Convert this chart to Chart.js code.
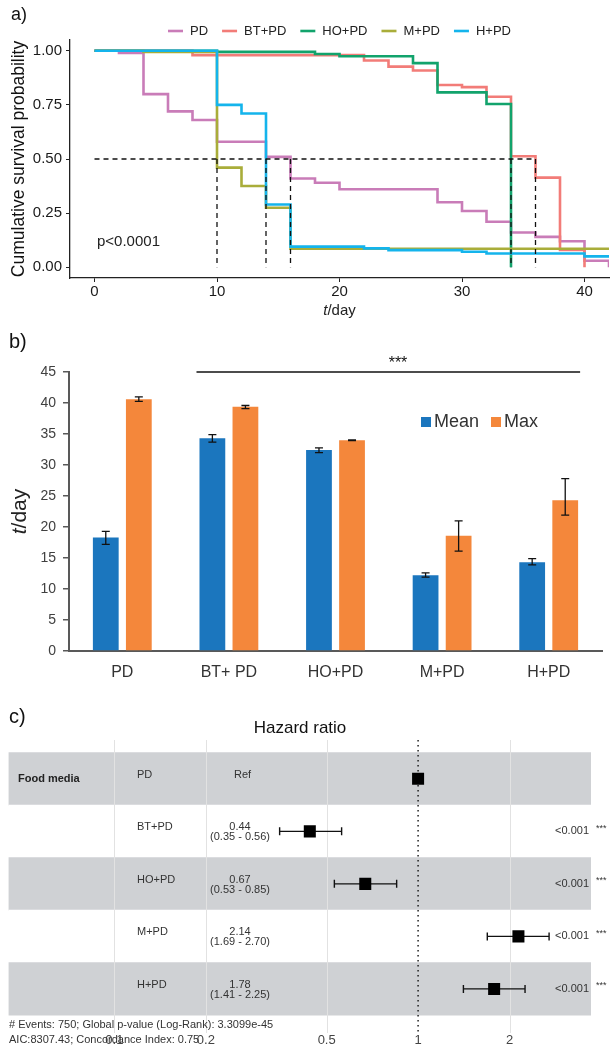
<!DOCTYPE html>
<html lang="en">
<head>
    <meta charset="utf-8" />
    <title>Survival on food media</title>
    <script src="https://cdn.jsdelivr.net/npm/chart.js@4.4.1/dist/chart.umd.min.js"></script>
    <style>
        body { margin: 0; background: #fff; }
        .panel { position: absolute; left: 0; }
    </style>
</head>

<body>
    <canvas id="survChart" class="panel" width="615" height="320" style="top:0"></canvas>
    <canvas id="barChart" class="panel" width="615" height="370" style="top:320px"></canvas>
    <canvas id="forestChart" class="panel" width="615" height="358" style="top:690px"></canvas>

    <script>
        // a) Kaplan-Meier curves: day of each step and survival from that day on
        const groups = ['PD', 'BT+PD', 'HO+PD', 'M+PD', 'H+PD'];
        const groupColors = ['#c97cb8', '#f27c78', '#12a36c', '#a9ad3a', '#14b4ec'];
        const pdDays = [0, 2, 4, 6, 8, 10, 14, 16, 18, 20, 28, 30, 32, 34, 36, 38, 40, 42];
        const pdSurv = [1, 0.99, 0.80, 0.72, 0.68, 0.58, 0.51, 0.41, 0.39, 0.36, 0.30, 0.26, 0.21, 0.16, 0.14, 0.12, 0.03, 0];
        const btDays = [0, 8, 22, 24, 26, 28, 30, 32, 34, 36, 38, 40];
        const btSurv = [1, 0.98, 0.955, 0.927, 0.909, 0.842, 0.832, 0.788, 0.513, 0.414, 0.08, 0];
        const hoDays = [0, 10, 18, 20, 26, 28, 32, 34];
        const hoSurv = [1, 0.995, 0.985, 0.975, 0.943, 0.808, 0.754, 0];
        const mDays = [0, 4, 10, 12, 14, 16, 42];
        const mSurv = [1, 0.995, 0.46, 0.375, 0.275, 0.085, 0.085];
        const hDays = [0, 10, 12, 14, 16, 22, 24, 30, 32, 40, 42];
        const hSurv = [1, 0.75, 0.71, 0.29, 0.095, 0.087, 0.079, 0.071, 0.063, 0.05, 0.05];
        const medianDays = [10, 14, 16, 34, 36];
        const survXTicks = [0, 10, 20, 30, 40];
        const survYTicks = [0, 0.25, 0.5, 0.75, 1];

        // b) mean and max survival time
        const barCats = ['PD', 'BT+ PD', 'HO+PD', 'M+PD', 'H+PD'];
        const meanDays = [18.3, 34.3, 32.4, 12.2, 14.3];
        const meanLow = [17.2, 33.7, 32.0, 11.9, 13.9];
        const meanHigh = [19.3, 34.9, 32.75, 12.6, 14.9];
        const maxDays = [40.6, 39.4, 34.0, 18.6, 24.3];
        const maxLow = [40.25, 39.1, 33.95, 16.1, 21.9];
        const maxHigh = [41.0, 39.6, 34.05, 21.0, 27.8];

        // c) Cox model hazard ratios
        const forestRows = ['PD', 'BT+PD', 'HO+PD', 'M+PD', 'H+PD'];
        const hazard = [1, 0.44, 0.67, 2.14, 1.78];
        const hazardLow = [null, 0.35, 0.53, 1.69, 1.41];
        const hazardHigh = [null, 0.56, 0.85, 2.70, 2.25];
        const pLabels = ['', '<0.001', '<0.001', '<0.001', '<0.001'];
        const forestTicks = [0.1, 0.2, 0.5, 1, 2];

        const FONT = '"Liberation Sans", Arial, sans-serif';
        Chart.defaults.font.family = FONT;
        Chart.defaults.color = '#222';
        Chart.defaults.animation = false;
        Chart.defaults.plugins.legend.display = false;
        Chart.defaults.plugins.tooltip.enabled = false;

        function drawTDay(ctx, x, y, size, rotate) {
            ctx.save();
            ctx.translate(x, y);
            if (rotate) ctx.rotate(-Math.PI / 2);
            ctx.textBaseline = 'middle';
            ctx.textAlign = 'left';
            ctx.fillStyle = '#222';
            ctx.font = 'italic ' + size + 'px ' + FONT;
            const tw = ctx.measureText('t').width;
            ctx.font = size + 'px ' + FONT;
            const rw = ctx.measureText('/day').width;
            const sx = -(tw + rw) / 2;
            ctx.font = 'italic ' + size + 'px ' + FONT;
            ctx.fillText('t', sx, 0);
            ctx.font = size + 'px ' + FONT;
            ctx.fillText('/day', sx + tw, 0);
            ctx.restore();
        }

        // ---------- a) survival curves ----------
        const kmDays = [pdDays, btDays, hoDays, mDays, hDays];
        const kmSurv = [pdSurv, btSurv, hoSurv, mSurv, hSurv];
        const kmSets = groups.map((g, i) => ({
            label: g,
            data: kmDays[i].map((d, j) => ({ x: d, y: kmSurv[i][j] })),
            borderColor: groupColors[i],
            borderWidth: 2.6,
            stepped: 'before',
            pointRadius: 0,
            order: groups.length - i
        }));
        const dashStyle = { borderColor: '#111', borderWidth: 1.3, borderDash: [5, 4], pointRadius: 0, order: -1 };
        const medianSets = [
            Object.assign({ data: [{ x: 0, y: 0.5 }, { x: Math.max(...medianDays), y: 0.5 }] }, dashStyle)
        ].concat(medianDays.map(d => Object.assign({ data: [{ x: d, y: 0.5 }, { x: d, y: 0 }] }, dashStyle)));

        const survDecor = {
            id: 'survDecor',
            afterDraw(chart) {
                const ctx = chart.ctx;
                const area = chart.chartArea;
                ctx.save();
                ctx.fillStyle = '#111';
                ctx.textBaseline = 'middle';
                ctx.font = '18px ' + FONT;
                ctx.fillText('a)', 11, 15);

                // legend
                ctx.font = '13px ' + FONT;
                const lineLen = 15, gap = 7, between = 14;
                const widths = groups.map(g => ctx.measureText(g).width);
                const total = widths.reduce((a, b) => a + b, 0) + groups.length * (lineLen + gap) + (groups.length - 1) * between;
                let x = (area.left + area.right) / 2 - total / 2;
                const ly = 31;
                groups.forEach((g, i) => {
                    ctx.strokeStyle = groupColors[i];
                    ctx.lineWidth = 2.6;
                    ctx.beginPath();
                    ctx.moveTo(x, ly);
                    ctx.lineTo(x + lineLen, ly);
                    ctx.stroke();
                    ctx.fillStyle = '#222';
                    ctx.fillText(g, x + lineLen + gap, ly);
                    x += lineLen + gap + widths[i] + between;
                });

                ctx.font = '15px ' + FONT;
                ctx.fillText('p<0.0001', 97, 242);
                ctx.restore();
                drawTDay(ctx, (area.left + area.right) / 2, 311, 15, false);
            }
        };

        new Chart(document.getElementById('survChart'), {
            type: 'line',
            data: { datasets: kmSets.concat(medianSets) },
            options: {
                responsive: false,
                layout: { padding: { top: 40, right: 6 } },
                scales: {
                    x: {
                        type: 'linear', min: -2, max: 42,
                        afterBuildTicks: s => { s.ticks = survXTicks.map(v => ({ value: v })); },
                        afterFit: s => { s.height = 42; },
                        grid: { drawOnChartArea: false, tickLength: 4, color: '#222' },
                        border: { color: '#222', width: 1.3 },
                        ticks: { font: { size: 15 }, color: '#1a1a1a', padding: 1 }
                    },
                    y: {
                        type: 'linear', min: -0.05, max: 1.05,
                        afterBuildTicks: s => { s.ticks = survYTicks.map(v => ({ value: v })); },
                        afterFit: s => { s.width = 70; },
                        grid: { drawOnChartArea: false, tickLength: 4, color: '#222' },
                        border: { color: '#222', width: 1.3 },
                        ticks: { callback: v => v.toFixed(2), font: { size: 15 }, color: '#1a1a1a', padding: 4 },
                        title: { display: true, text: 'Cumulative survival probability', font: { size: 17.5 }, color: '#111', padding: { top: 9 } }
                    }
                }
            },
            plugins: [survDecor]
        });

        // ---------- b) mean / max bars ----------
        const barDecor = {
            id: 'barDecor',
            afterDatasetsDraw(chart) {
                const ctx = chart.ctx;
                const ys = chart.scales.y;
                ctx.save();
                ctx.strokeStyle = '#111';
                ctx.lineWidth = 1.3;
                [[meanLow, meanHigh], [maxLow, maxHigh]].forEach(([lo, hi], di) => {
                    chart.getDatasetMeta(di).data.forEach((bar, i) => {
                        const y1 = ys.getPixelForValue(lo[i]);
                        const y2 = ys.getPixelForValue(hi[i]);
                        ctx.beginPath();
                        ctx.moveTo(bar.x, y1); ctx.lineTo(bar.x, y2);
                        ctx.moveTo(bar.x - 4, y1); ctx.lineTo(bar.x + 4, y1);
                        ctx.moveTo(bar.x - 4, y2); ctx.lineTo(bar.x + 4, y2);
                        ctx.stroke();
                    });
                });
                ctx.restore();
            },
            afterDraw(chart) {
                const ctx = chart.ctx;
                const ys = chart.scales.y;
                const first = chart.getDatasetMeta(0).data[1];
                const last = chart.getDatasetMeta(1).data[4];
                const sy = ys.getPixelForValue(45);
                ctx.save();
                ctx.strokeStyle = '#111';
                ctx.lineWidth = 1.5;
                ctx.beginPath();
                ctx.moveTo(first.x - first.width / 2 - 3, sy);
                ctx.lineTo(last.x + last.width / 2 + 2, sy);
                ctx.stroke();
                ctx.fillStyle = '#111';
                ctx.textAlign = 'center';
                ctx.textBaseline = 'middle';
                ctx.font = '16px ' + FONT;
                ctx.fillText('***', 398, 44);

                ctx.textAlign = 'left';
                ctx.font = '20px ' + FONT;
                ctx.fillText('b)', 9, 22);

                // legend
                ctx.font = '18px ' + FONT;
                ctx.fillStyle = chart.data.datasets[0].backgroundColor;
                ctx.fillRect(421, 97, 10, 10);
                ctx.fillStyle = '#333';
                ctx.fillText('Mean', 434, 102);
                ctx.fillStyle = chart.data.datasets[1].backgroundColor;
                ctx.fillRect(491, 97, 10, 10);
                ctx.fillStyle = '#333';
                ctx.fillText('Max', 504, 102);
                ctx.restore();
                drawTDay(ctx, 20, (chart.chartArea.top + chart.chartArea.bottom) / 2, 21, true);
            }
        };

        new Chart(document.getElementById('barChart'), {
            type: 'bar',
            data: {
                labels: barCats,
                datasets: [
                    { label: 'Mean', data: meanDays, backgroundColor: '#1b76be' },
                    { label: 'Max', data: maxDays, backgroundColor: '#f4873b' }
                ]
            },
            options: {
                responsive: false,
                layout: { padding: { top: 52, right: 13 } },
                datasets: { bar: { categoryPercentage: 0.62, barPercentage: 0.78 } },
                scales: {
                    x: {
                        afterFit: s => { s.height = 39; },
                        grid: { display: false, drawTicks: false },
                        border: { color: '#595959', width: 2 },
                        ticks: { font: { size: 16 }, color: '#333', padding: 12 }
                    },
                    y: {
                        min: 0, max: 45,
                        afterFit: s => { s.width = 69; },
                        grid: { drawOnChartArea: false, tickLength: 6, color: '#595959', lineWidth: 1.5 },
                        border: { color: '#595959', width: 2 },
                        ticks: { stepSize: 5, font: { size: 14 }, color: '#404040', padding: 7 }
                    }
                }
            },
            plugins: [barDecor]
        });

        // ---------- c) forest plot ----------
        const xMin = 0.0448, xMax = 3.71, yTop = 0.26, yBottom = 5.84;
        const rowPos = forestRows.map((r, i) => i + 1);

        const bandSet = {
            type: 'bar',
            indexAxis: 'y',
            data: rowPos.map(r => ({ y: r, x: [xMin, xMax] })),
            backgroundColor: rowPos.map((r, i) => i % 2 === 0 ? '#cfd1d4' : '#ffffff'),
            categoryPercentage: 1,
            barPercentage: 1,
            borderWidth: 0,
            order: 10
        };
        const dottedSet = {
            type: 'line',
            data: [{ x: 1, y: yTop }, { x: 1, y: yBottom }],
            borderColor: '#111', borderWidth: 1.4, borderDash: [1.5, 3.5],
            pointRadius: 0, order: 3
        };
        const ciSets = rowPos.filter((r, i) => hazardLow[i] !== null).map(r => ({
            type: 'line',
            data: [{ x: hazardLow[r - 1], y: r }, { x: hazardHigh[r - 1], y: r }],
            borderColor: '#111', borderWidth: 1.4,
            pointStyle: 'line', pointRotation: 90, pointRadius: 4,
            pointBorderWidth: 1.4, pointBorderColor: '#111',
            order: 2
        }));
        const squareSet = {
            type: 'line',
            showLine: false,
            data: rowPos.map((r, i) => ({ x: hazard[i], y: r })),
            pointStyle: 'rect', pointRadius: 8.5,
            pointBackgroundColor: '#000', pointBorderColor: '#000', pointBorderWidth: 0,
            order: 1
        };

        const forestDecor = {
            id: 'forestDecor',
            afterDatasetDraw(chart, args) {
                if (args.index !== 0) return;
                const ctx = chart.ctx;
                const xs = chart.scales.x;
                const area = chart.chartArea;
                ctx.save();
                ctx.strokeStyle = '#e2e2e2';
                ctx.lineWidth = 1;
                forestTicks.filter(t => t !== 1).forEach(t => {
                    const px = Math.round(xs.getPixelForValue(t)) + 0.5;
                    ctx.beginPath();
                    ctx.moveTo(px, area.top);
                    ctx.lineTo(px, area.bottom);
                    ctx.stroke();
                });
                ctx.restore();
            },
            afterDraw(chart) {
                const ctx = chart.ctx;
                const ys = chart.scales.y;
                ctx.save();
                ctx.fillStyle = '#111';
                ctx.textBaseline = 'middle';
                ctx.font = '20px ' + FONT;
                ctx.fillText('c)', 9, 27);
                ctx.textAlign = 'center';
                ctx.font = '17px ' + FONT;
                ctx.fillText('Hazard ratio', 300, 38);

                forestRows.forEach((name, i) => {
                    const cy = ys.getPixelForValue(rowPos[i]);
                    ctx.fillStyle = '#333';
                    ctx.textAlign = 'left';
                    ctx.font = '11px ' + FONT;
                    ctx.fillText(name, 137, cy - 4);
                    if (hazardLow[i] === null) {
                        ctx.fillText('Ref', 234, cy - 4);
                    } else {
                        ctx.textAlign = 'center';
                        ctx.fillText(hazard[i].toFixed(2), 240, cy - 4);
                        ctx.fillText('(' + hazardLow[i].toFixed(2) + ' - ' + hazardHigh[i].toFixed(2) + ')', 240, cy + 6);
                        ctx.textAlign = 'right';
                        ctx.fillText(pLabels[i], 589, cy);
                        ctx.textAlign = 'left';
                        ctx.font = '9px ' + FONT;
                        ctx.fillText('***', 596, cy - 3);
                    }
                });
                ctx.fillStyle = '#222';
                ctx.textAlign = 'left';
                ctx.font = 'bold 11px ' + FONT;
                ctx.fillText('Food media', 18, ys.getPixelForValue(rowPos[0]));

                ctx.fillStyle = '#333';
                ctx.font = '11px ' + FONT;
                ctx.fillText('# Events: 750; Global p-value (Log-Rank): 3.3099e-45', 9, 335);
                ctx.fillText('AIC:8307.43; Concordance Index: 0.75', 9, 350);
                ctx.restore();
            }
        };

        new Chart(document.getElementById('forestChart'), {
            type: 'bar',
            data: { datasets: [bandSet, dottedSet].concat(ciSets, [squareSet]) },
            options: {
                responsive: false,
                layout: { padding: { top: 50, left: 8, right: 24 } },
                scales: {
                    x: {
                        type: 'logarithmic', min: xMin, max: xMax, offset: false,
                        afterBuildTicks: s => { s.ticks = forestTicks.map(v => ({ value: v })); },
                        afterFit: s => { s.height = 15; },
                        grid: { display: false, drawTicks: false, offset: false },
                        border: { display: false },
                        ticks: { callback: v => String(v), font: { size: 13 }, color: '#444', padding: 0, autoSkip: false, maxRotation: 0 }
                    },
                    y: {
                        type: 'linear', reverse: true, min: yTop, max: yBottom, offset: false,
                        afterBuildTicks: s => { s.ticks = rowPos.map(v => ({ value: v })); },
                        afterFit: s => { s.width = 0; },
                        grid: { display: false, drawTicks: false, offset: false },
                        border: { display: false },
                        ticks: { display: false }
                    }
                }
            },
            plugins: [forestDecor]
        });
    </script>
</body>

</html>
